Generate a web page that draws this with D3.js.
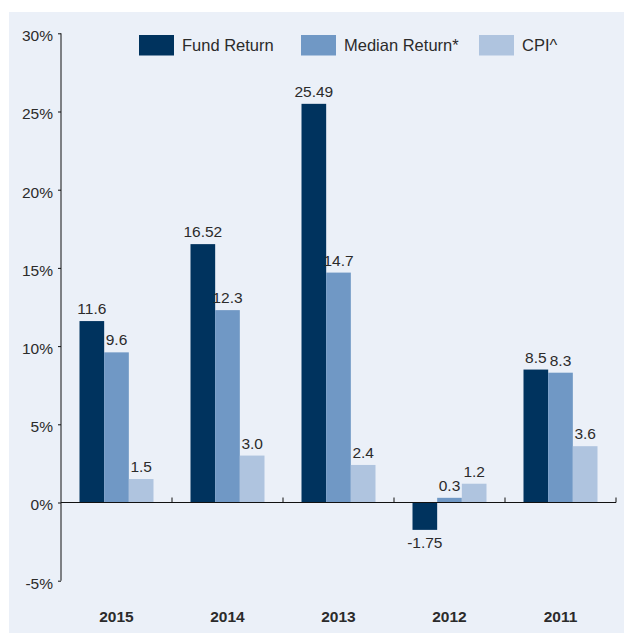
<!DOCTYPE html>
<html>
<head>
<meta charset="utf-8">
<script src="https://d3js.org/d3.v7.min.js"></script>
<style>
    body { margin: 0; background: #fff; }
    text { font-family: "Liberation Sans", Arial, sans-serif; fill: #2b2b2b; }
</style>
</head>
<body>
<svg id="chart" width="624" height="635"></svg>
<script>
const years = ["2015", "2014", "2013", "2012", "2011"];
const seriesNames = ["Fund Return", "Median Return*", "CPI^"];
const fundReturn = [11.6, 16.52, 25.49, -1.75, 8.5];
const medianReturn = [9.6, 12.3, 14.7, 0.3, 8.3];
const cpi = [1.5, 3.0, 2.4, 1.2, 3.6];
const valueLabels = [
    ["11.6", "16.52", "25.49", "-1.75", "8.5"],
    ["9.6", "12.3", "14.7", "0.3", "8.3"],
    ["1.5", "3.0", "2.4", "1.2", "3.6"]
];
const yTicks = [-5, 0, 5, 10, 15, 20, 25, 30];
const colors = ["#00335e", "#7098c5", "#afc4df"];

const series = [fundReturn, medianReturn, cpi];

const svg = d3.select("#chart");

svg.append("rect")
    .attr("x", 9)
    .attr("y", 12)
    .attr("width", 615)
    .attr("height", 621)
    .attr("fill", "#ebf0f8");

const x = d3.scaleBand()
    .domain(years)
    .range([61, 616]);

const inner = d3.scaleBand()
    .domain(d3.range(series.length))
    .range([18.5, 92.5]);

const y = d3.scaleLinear()
    .domain([-5, 30])
    .range([580.7, 33.3]);

// y axis
const yAxis = svg.append("g")
    .attr("transform", "translate(61,0)")
    .call(d3.axisLeft(y)
        .tickValues(yTicks)
        .tickSize(3)
        .tickPadding(5)
        .tickFormat(function(d) { return d + "%"; }));

yAxis.select(".domain").attr("d", "M0," + y(30) + "V" + y(-5)).attr("stroke", "#111");
yAxis.selectAll(".tick line").attr("stroke", "#111");
yAxis.selectAll("text")
    .attr("font-size", 15.5)
    .attr("dy", "0.48em")
    .attr("fill", "#2b2b2b")
    .attr("font-family", "'Liberation Sans', Arial, sans-serif");

// bars
series.forEach(function(values, s) {
    svg.selectAll(".bar-" + s)
        .data(values)
        .enter()
        .append("rect")
        .attr("class", "bar-" + s)
        .attr("x", function(d, i) { return x(years[i]) + inner(s); })
        .attr("y", function(d) { return y(Math.max(0, d)); })
        .attr("width", inner.bandwidth())
        .attr("height", function(d) { return Math.abs(y(d) - y(0)); })
        .attr("fill", colors[s]);

    svg.selectAll(".label-" + s)
        .data(values)
        .enter()
        .append("text")
        .attr("class", "label-" + s)
        .attr("x", function(d, i) { return x(years[i]) + inner(s) + inner.bandwidth() / 2; })
        .attr("y", function(d) { return d < 0 ? y(d) + 18 : y(d) - 7; })
        .attr("text-anchor", "middle")
        .attr("font-size", 15.5)
        .text(function(d, i) { return valueLabels[s][i]; });
});

// x axis
svg.append("line")
    .attr("x1", 61)
    .attr("x2", 616)
    .attr("y1", y(0))
    .attr("y2", y(0))
    .attr("stroke", "#111");

svg.selectAll(".x-tick")
    .data(years)
    .enter()
    .append("line")
    .attr("class", "x-tick")
    .attr("x1", function(d) { return x(d) + x.bandwidth(); })
    .attr("x2", function(d) { return x(d) + x.bandwidth(); })
    .attr("y1", y(0))
    .attr("y2", y(0) - 5)
    .attr("stroke", "#111");

svg.selectAll(".year-label")
    .data(years)
    .enter()
    .append("text")
    .attr("class", "year-label")
    .attr("x", function(d) { return x(d) + x.bandwidth() / 2; })
    .attr("y", 622)
    .attr("text-anchor", "middle")
    .attr("font-size", 15.5)
    .attr("font-weight", "bold")
    .text(function(d) { return d; });

// legend
const legendX = [139, 301, 479];

const legend = svg.selectAll(".legend")
    .data(seriesNames)
    .enter()
    .append("g")
    .attr("class", "legend")
    .attr("transform", function(d, i) { return "translate(" + legendX[i] + ",35)"; });

legend.append("rect")
    .attr("width", 35)
    .attr("height", 20.5)
    .attr("fill", function(d, i) { return colors[i]; });

legend.append("text")
    .attr("x", 43)
    .attr("y", 16)
    .attr("font-size", 16.5)
    .text(function(d) { return d; });
</script>
</body>
</html>
